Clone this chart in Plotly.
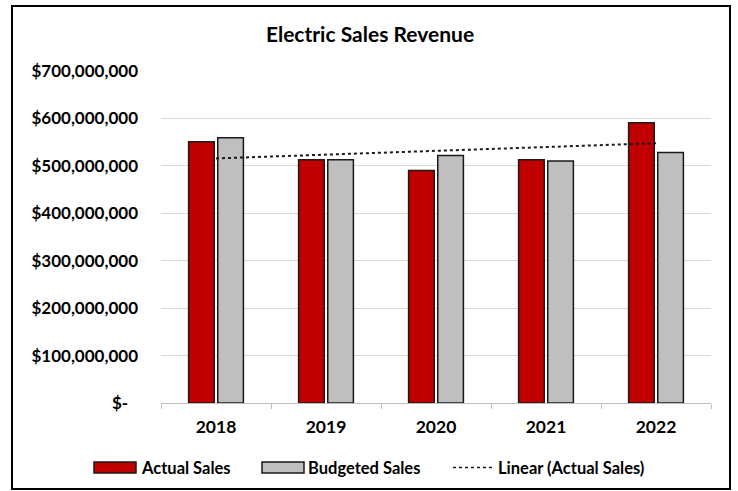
import numpy as np
import plotly.graph_objects as go

# Revenue by year
years = ["2018", "2019", "2020", "2021", "2022"]
actual_sales = [551e6, 513e6, 490e6, 513e6, 591e6]
budgeted_sales = [559e6, 513e6, 522e6, 510e6, 528e6]

y_tick_values = [0, 100e6, 200e6, 300e6, 400e6, 500e6, 600e6, 700e6]
y_tick_labels = ["$-\u2007", "$100,000,000", "$200,000,000", "$300,000,000",
                 "$400,000,000", "$500,000,000", "$600,000,000", "$700,000,000"]

RED = "#c00000"
GRAY = "#bfbfbf"
FONT = "Lato"

# Linear trend of actual sales over the category index
idx = np.arange(1, len(years) + 1)
slope, intercept = np.polyfit(idx, actual_sales, 1)
trend = slope * idx + intercept

W, H = 738, 491
ML, MR, MT, MB = 161, 27, 70, 88
PW, PH = W - ML - MR, H - MT - MB

fig = go.Figure()
fig.add_trace(go.Bar(name="Actual Sales", x=years, y=actual_sales,
                     marker=dict(color=RED, line=dict(color="#1a1a1a", width=1.5))))
fig.add_trace(go.Bar(name="Budgeted Sales", x=years, y=budgeted_sales,
                     marker=dict(color=GRAY, line=dict(color="#1a1a1a", width=1.5))))
fig.add_trace(go.Scatter(name="Linear (Actual Sales)", x=years, y=trend, mode="lines",
                         line=dict(color="#1a1a1a", width=2, dash="dot")))


def px_x(px):
    return (px - ML) / PW


def px_y(py):
    return (H - MB - py) / PH


shapes = [
    # chart border
    dict(type="rect", xref="paper", yref="paper",
         x0=px_x(12), x1=px_x(730), y0=px_y(489), y1=px_y(6),
         line=dict(color="#000000", width=2), fillcolor="rgba(0,0,0,0)", layer="below"),
    # legend swatches
    dict(type="rect", xref="paper", yref="paper",
         x0=px_x(94), x1=px_x(136), y0=px_y(473), y1=px_y(462),
         line=dict(color="#1a1a1a", width=1.5), fillcolor=RED),
    dict(type="rect", xref="paper", yref="paper",
         x0=px_x(262), x1=px_x(304), y0=px_y(473), y1=px_y(462),
         line=dict(color="#1a1a1a", width=1.5), fillcolor=GRAY),
    dict(type="line", xref="paper", yref="paper",
         x0=px_x(453), x1=px_x(493), y0=px_y(467.5), y1=px_y(467.5),
         line=dict(color="#1a1a1a", width=1.5, dash="dot")),
]

legend_font = dict(family=FONT, size=16.5, color="#000000", weight="bold")
annotations = [
    dict(text=t, xref="paper", yref="paper", x=px_x(xp), y=px_y(467.5),
         xanchor="left", yanchor="middle", showarrow=False, font=legend_font)
    for t, xp in [("Actual Sales", 139), ("Budgeted Sales", 306), ("Linear (Actual Sales)", 496)]
]

fig.update_layout(
    width=W, height=H,
    margin=dict(l=ML, r=MR, t=MT, b=MB),
    paper_bgcolor="white", plot_bgcolor="white",
    barmode="group", bargap=0.47, bargroupgap=0.12,
    showlegend=False,
    title=dict(text="Electric Sales Revenue", x=370 / W, xanchor="center",
               y=1 - 35 / H, yanchor="middle", yref="container",
               font=dict(family=FONT, size=21, color="#000000", weight="bold")),
    font=dict(family=FONT, color="#000000"),
    xaxis=dict(showline=True, linecolor="#bfbfbf", linewidth=1,
               ticks="outside", ticklen=5, tickcolor="#bfbfbf", tickson="boundaries",
               tickfont=dict(family=FONT, size=17.5, color="#000000", weight="bold"),
               ticklabelstandoff=8, showgrid=False),
    yaxis=dict(range=[0, 702e6], tickvals=y_tick_values, ticktext=y_tick_labels,
               showgrid=True, gridcolor="#d9d9d9", gridwidth=1, zeroline=False,
               tickfont=dict(family=FONT, size=17, color="#000000", weight="bold"),
               ticklabelstandoff=22),
    shapes=shapes, annotations=annotations,
)

fig.write_html("out.html")
